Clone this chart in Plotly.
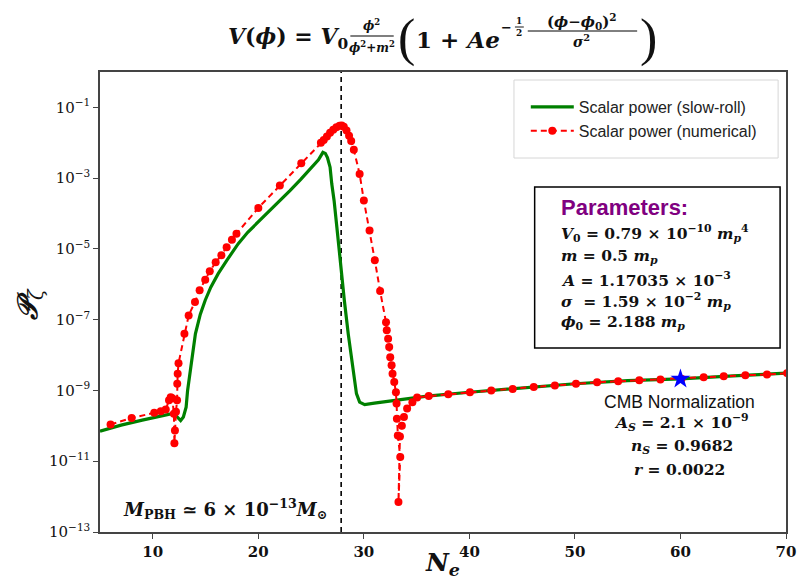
import numpy as np
import plotly.graph_objects as go

# ---------------- data ----------------
# slow-roll scalar power: N_e and log10(P_zeta)
sr_N = [5.0, 7.0, 9.0, 11.0, 11.7, 12.16, 12.48, 12.64, 12.9, 13.05, 13.16, 13.3, 13.45, 13.57,
        13.8, 14.04, 14.5, 14.97, 15.5, 16.2, 17.0, 18.1, 19.0, 20.0, 21.0, 22.0, 23.0, 24.0,
        25.0, 25.7, 26.12, 26.35, 26.55, 26.8, 26.96, 27.18, 27.5, 27.8, 28.15, 28.52, 28.9,
        29.3, 29.6, 30.08, 31.0, 34.0, 36.0, 40.0, 45.0, 50.0, 55.0, 60.0, 65.0, 70.0]
sr_logP = [-10.15, -9.98, -9.84, -9.72, -9.66, -9.70, -9.82, -9.85, -9.75, -9.62, -9.47, -9.0,
           -8.65, -8.34, -7.85, -7.40, -6.85, -6.45, -6.08, -5.70, -5.33, -4.85, -4.53, -4.24,
           -3.95, -3.65, -3.35, -3.04, -2.72, -2.48, -2.27, -2.30, -2.42, -2.69, -3.16, -3.63,
           -4.55, -5.51, -6.45, -7.40, -8.30, -9.09, -9.33, -9.40, -9.36, -9.23, -9.16, -9.05,
           -8.93, -8.81, -8.72, -8.67, -8.59, -8.51]

# numerical scalar power: N_e and log10(P_zeta)
num_N = [6.0, 8.0, 10.14, 10.76, 11.23, 11.54, 11.7, 11.85, 12.0, 12.05, 12.1, 12.2, 12.3,
         12.32, 12.36, 12.44, 13.0, 13.4, 14.0, 14.44, 14.97, 15.4, 15.96, 16.5, 17.0, 17.5,
         17.93, 20.0, 22.04, 24.07, 25.93, 26.2, 26.5, 26.8, 27.1, 27.4, 27.7, 27.9, 28.1,
         28.36, 28.6, 28.8, 29.05, 29.6, 30.0, 30.54, 31.04, 31.54, 32.1, 32.17, 32.3, 32.4,
         32.5, 32.63, 32.72, 32.88, 33.04, 33.1, 33.13, 33.22, 33.45, 33.28, 33.42, 33.6, 33.8,
         34.1, 34.6, 35.05, 36.15, 38.0, 40.05, 42.07, 44.1, 46.1, 48.1, 50.1, 52.1, 54.1,
         56.1, 58.1, 60.1, 62.2, 64.1, 66.15, 68.2, 70.1]
num_logP = [-9.96, -9.78, -9.63, -9.59, -9.54, -9.28, -9.19, -9.22, -9.66, -10.49, -10.13,
            -9.60, -9.28, -8.81, -8.53, -8.23, -7.40, -6.88, -6.50, -6.17, -5.87, -5.63,
            -5.38, -5.18, -4.95, -4.74, -4.57, -3.84, -3.21, -2.58, -2.00, -1.92, -1.82,
            -1.72, -1.63, -1.56, -1.52, -1.51, -1.55, -1.65, -1.80, -1.95, -2.20, -2.88,
            -3.63, -4.48, -5.32, -6.19, -7.07, -7.30, -7.54, -7.77, -8.06, -8.29, -8.53,
            -8.76, -9.05, -9.37, -9.80, -10.27, -10.88, -12.15, -10.30, -10.00, -9.75,
            -9.51, -9.33, -9.20, -9.16, -9.11, -9.05, -9.00, -8.96, -8.90, -8.86, -8.81,
            -8.77, -8.74, -8.71, -8.69, -8.67, -8.63, -8.60, -8.57, -8.55, -8.51]

cmb_N = [60.0]
cmb_As = [2.1e-9]
N_pbh = 27.85

x_ticks = [10, 20, 30, 40, 50, 60, 70]
y_tick_exps = [-13, -11, -9, -7, -5, -3, -1]

sr_P = [10 ** v for v in sr_logP]
num_P = [10 ** v for v in num_logP]

# ---------------- layout helpers ----------------
# the page adds an 8px body margin, so the figure is shrunk by that much
W, H = 798, 580
L, R, T, B = 92, 10, 64, 56
PW, PH = W - L - R, H - T - B
PAGE_LEFT, PAGE_TOP = 100, 72  # plot-area corner in page pixels


def pxx(x):
    return (x - PAGE_LEFT) / PW


def pxy(y):
    return (PAGE_TOP + PH - y) / PH


SERIF = "DejaVu Serif"
SANS = "Liberation Sans"

fig = go.Figure()

fig.add_trace(go.Scatter(
    x=sr_N, y=sr_P, mode="lines", name="Scalar power (slow-roll)\u00a0\u00a0",
    line=dict(color="#008000", width=3.2)))

fig.add_trace(go.Scatter(
    x=num_N, y=num_P, mode="lines+markers", name="Scalar power (numerical)\u00a0\u00a0",
    line=dict(color="#ff0000", width=2, dash="6px,4px"),
    marker=dict(color="#ff0000", size=8)))

fig.add_trace(go.Scatter(
    x=cmb_N, y=cmb_As, mode="markers", showlegend=False,
    marker=dict(symbol="star", color="#0000ff", size=15, line=dict(width=0))))

axis_common = dict(showline=True, linecolor="#444", linewidth=1.5, mirror=True,
                   ticks="outside", ticklen=5, tickwidth=1.3, tickcolor="#444",
                   showgrid=False, zeroline=False)

fig.update_xaxes(range=[5, 70], tickvals=x_ticks,
                 ticktext=["<b>%d</b>" % v for v in x_ticks],
                 tickfont=dict(family=SERIF, size=15, color="#111"), **axis_common)
fig.update_yaxes(type="log", range=[-13, 0],
                 tickvals=[10 ** e for e in y_tick_exps],
                 ticktext=["10<sup>\u2212%d</sup>" % (-e) for e in y_tick_exps],
                 tickfont=dict(family=SERIF, size=15, color="#111"), **axis_common)

ann = []
shapes = []


def add_text(text, x, y, size, family=SERIF, xanchor="left", color="#111", **kw):
    ann.append(dict(text=text, x=pxx(x), y=pxy(y), xref="paper", yref="paper",
                    xanchor=xanchor, yanchor="middle", showarrow=False,
                    font=dict(family=family, size=size, color=color), **kw))


def add_bar(x0, x1, y, w=1.2):
    shapes.append(dict(type="line", xref="paper", yref="paper", x0=pxx(x0), x1=pxx(x1),
                       y0=pxy(y), y1=pxy(y), line=dict(color="black", width=w)))


# vertical PBH line
shapes.append(dict(type="line", xref="x", yref="paper", x0=N_pbh, x1=N_pbh, y0=0, y1=1,
                   line=dict(color="black", width=1.6, dash="5px,4px"), layer="below"))

# ---- title built from pieces ----
add_text("<b><i>V</i>(<i>ϕ</i>) = <i>V</i><sub>0</sub></b>", 228, 38, 22)
add_text("<b><i>ϕ</i><sup>2</sup></b>", 375, 25, 12, xanchor="center")
add_bar(354, 398, 36)
add_text("<b><i>ϕ</i><sup>2</sup>+<i>m</i><sup>2</sup></b>", 376, 47, 12, xanchor="center")
add_text("(", 411, 38, 52, family="Liberation Serif", xanchor="center")
add_text("<b>1 + <i>Ae</i></b>", 419, 40, 23)
add_text("<b>\u2212</b>", 512, 27, 13, xanchor="center")
add_text("<b>1</b>", 525, 21, 9, xanchor="center")
add_bar(521, 530, 27, 0.9)
add_text("<b>2</b>", 525, 33, 9, xanchor="center")
add_text("<b>(<i>ϕ</i>\u2212<i>ϕ</i><sub>0</sub>)<sup>2</sup></b>", 589, 21, 15, xanchor="center")
add_bar(534, 645, 31, 1.0)
add_text("<b><i>σ</i><sup>2</sup></b>", 589, 41, 14, xanchor="center")
add_text(")", 656, 38, 52, family="Liberation Serif", xanchor="center")

# ---- axis titles ----
add_text("<b><i>N</i><sub><i>e</i></sub></b>", 447, 564, 25, xanchor="center")
ann.append(dict(text="<b><i>𝒫</i></b><sub><i>ζ</i></sub>", x=pxx(28), y=pxy(305),
                xref="paper", yref="paper", xanchor="center", yanchor="middle",
                showarrow=False, textangle=-90,
                font=dict(family=SERIF, size=28, color="#111")))

# ---- legend frame ----
shapes.append(dict(type="rect", xref="paper", yref="paper", x0=pxx(520), x1=pxx(788),
                   y0=pxy(158), y1=pxy(80), line=dict(color="#d6d6d6", width=1),
                   fillcolor="white", layer="above"))

# ---- parameters box ----
shapes.append(dict(type="rect", xref="paper", yref="paper", x0=pxx(541), x1=pxx(790),
                   y0=pxy(348), y1=pxy(187), line=dict(color="black", width=1.5)))
add_text("<b>Parameters:</b>", 566, 207, 22, family=SANS, color="#800080")
add_text("<b><i>V</i><sub>0</sub> = 0.79 × 10<sup>\u221210</sup> <i>m</i><sub><i>p</i></sub><sup>4</sup></b>", 566, 233, 15.5)
add_text("<b><i>m</i> = 0.5 <i>m</i><sub><i>p</i></sub></b>", 566, 256, 15.5)
add_text("<b><i>A</i> = 1.17035 × 10<sup>\u22123</sup></b>", 566, 279, 15.5)
add_text("<b><i>σ</i>  = 1.59 × 10<sup>\u22122</sup> <i>m</i><sub><i>p</i></sub></b>", 566, 301, 15.5)
add_text("<b><i>ϕ</i><sub>0</sub> = 2.188 <i>m</i><sub><i>p</i></sub></b>", 566, 322, 15.5)

# ---- CMB text ----
add_text("CMB Normalization", 688, 402, 17.5, family=SANS, xanchor="center")
add_text("<b><i>A</i><sub><i>S</i></sub> = 2.1 × 10<sup>\u22129</sup></b>", 690, 422, 15.5, xanchor="center")
add_text("<b><i>n</i><sub><i>S</i></sub> = 0.9682</b>", 690, 446, 15.5, xanchor="center")
add_text("<b><i>r</i> = 0.0022</b>", 688, 469, 15.5, xanchor="center")

# ---- PBH mass ----
add_text("<b><i>M</i><sub>PBH</sub> ≃ 6 × 10<sup>\u221213</sup><i>M</i><sub>⊙</sub></b>", 121, 509, 18)

fig.update_layout(
    width=W, height=H, margin=dict(l=L, r=R, t=T, b=B),
    paper_bgcolor="white", plot_bgcolor="white",
    annotations=ann, shapes=shapes,
    legend=dict(x=pxx(532), y=pxy(90), xanchor="left", yanchor="top",
                bgcolor="rgba(0,0,0,0)", borderwidth=0,
                font=dict(family=SANS, size=16, color="#222"), itemwidth=43),
    showlegend=True,
)

fig.write_html("out.html")
